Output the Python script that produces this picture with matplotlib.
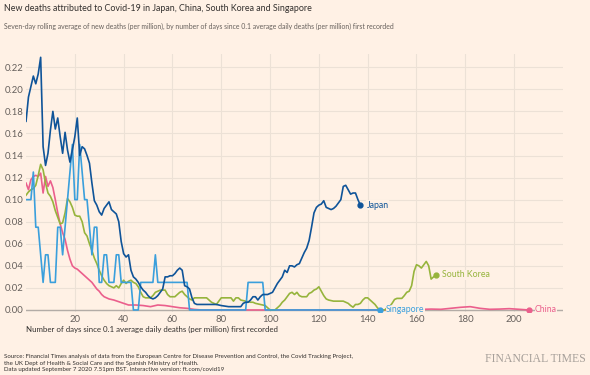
import matplotlib
matplotlib.use("Agg")
import matplotlib.pyplot as plt

plt.rcParams['font.family'] = ['Lato', 'DejaVu Sans']

BG = '#fff1e5'

# days since 0.1 avg daily deaths (per million), 7-day rolling average of new deaths (per million)
japan_days = [0, 1, 3, 4, 5, 6, 7, 8, 9, 10, 11, 12, 13, 14, 15, 16, 17, 18, 19, 20, 21, 22, 23,
              24, 25, 26, 27, 28, 29, 30, 31, 32, 33, 34, 35, 36, 37, 38, 39, 40, 41, 42, 43, 44,
              45, 46, 47, 48, 49, 50, 51, 52, 53, 54, 55, 56, 57, 58, 59, 60, 61, 62, 63, 64, 65,
              66, 67, 68, 69, 70, 72, 75, 78, 80, 83, 86, 88, 89, 90, 91, 92, 93, 94, 95, 96, 97,
              98, 99, 100, 101, 102, 103, 104, 105, 106, 107, 108, 109, 110, 111, 112, 113, 114,
              115, 116, 117, 118, 119, 120, 121, 122, 123, 124, 125, 126, 127, 128, 129, 130, 131,
              132, 133, 134, 135, 136, 137]
japan_vals = [0.171, 0.193, 0.212, 0.205, 0.214, 0.229, 0.148, 0.131, 0.142, 0.163, 0.180, 0.164,
              0.174, 0.157, 0.142, 0.161, 0.145, 0.134, 0.145, 0.157, 0.174, 0.140, 0.148, 0.146,
              0.140, 0.133, 0.115, 0.099, 0.095, 0.089, 0.086, 0.092, 0.095, 0.098, 0.091, 0.089,
              0.087, 0.080, 0.062, 0.051, 0.048, 0.050, 0.036, 0.030, 0.028, 0.025, 0.021, 0.018,
              0.016, 0.013, 0.011, 0.010, 0.011, 0.013, 0.016, 0.019, 0.030, 0.030, 0.031, 0.031,
              0.033, 0.036, 0.038, 0.036, 0.022, 0.021, 0.019, 0.011, 0.006, 0.005, 0.005, 0.005,
              0.005, 0.004, 0.003, 0.003, 0.003, 0.006, 0.007, 0.007, 0.009, 0.012, 0.012, 0.009,
              0.012, 0.014, 0.014, 0.014, 0.015, 0.016, 0.020, 0.024, 0.027, 0.030, 0.036, 0.034,
              0.040, 0.040, 0.039, 0.041, 0.042, 0.047, 0.052, 0.056, 0.063, 0.075, 0.088, 0.093,
              0.095, 0.096, 0.099, 0.093, 0.092, 0.091, 0.092, 0.094, 0.097, 0.100, 0.112, 0.113,
              0.109, 0.105, 0.106, 0.106, 0.100, 0.095]

china_days = [0, 1, 2, 3, 4, 5, 6, 7, 8, 9, 10, 11, 12, 13, 14, 15, 16, 17, 18, 19, 20, 21, 22,
              23, 24, 25, 26, 27, 28, 29, 30, 31, 32, 33, 34, 36, 38, 40, 42, 45, 48, 51, 54, 57,
              60, 63, 66, 69, 72, 160, 163, 166, 170, 174, 178, 182, 186, 190, 194, 198, 202, 206]
china_vals = [0.115, 0.109, 0.118, 0.121, 0.122, 0.121, 0.124, 0.106, 0.121, 0.112, 0.117, 0.111,
              0.100, 0.088, 0.078, 0.070, 0.064, 0.054, 0.046, 0.040, 0.038, 0.037, 0.035, 0.033,
              0.031, 0.029, 0.027, 0.025, 0.022, 0.019, 0.017, 0.014, 0.012, 0.011, 0.010, 0.009,
              0.0075, 0.006, 0.0045, 0.0045, 0.004, 0.003, 0.0045, 0.004, 0.003, 0.002, 0.0015,
              0.0005, 0.0, 0.0, 0.0006, 0.0008, 0.0006, 0.0015, 0.0024, 0.003, 0.0015, 0.0006,
              0.0008, 0.0012, 0.0006, 0.0]

korea_days = [0, 1, 2, 3, 4, 5, 6, 7, 8, 9, 10, 11, 12, 13, 14, 15, 16, 17, 18, 19, 20, 21, 22,
              23, 24, 25, 26, 27, 28, 29, 30, 31, 32, 33, 34, 35, 36, 37, 38, 39, 40, 41, 42, 43,
              44, 45, 46, 47, 48, 49, 50, 51, 52, 53, 54, 55, 56, 57, 58, 59, 60, 61, 62, 63, 64,
              65, 66, 67, 68, 69, 70, 72, 74, 75, 76, 77, 78, 79, 80, 82, 84, 85, 86, 87, 88, 90,
              92, 93, 94, 96, 98, 99, 100, 102, 103, 104, 105, 106, 107, 108, 109, 110, 111, 112,
              113, 114, 115, 116, 117, 118, 119, 120, 121, 122, 123, 124, 126, 128, 130, 131, 132,
              133, 134, 135, 136, 137, 138, 139, 140, 141, 142, 143, 144, 145, 147, 148, 149, 150,
              151, 152, 154, 155, 156, 157, 158, 159, 160, 161, 162, 163, 164, 165, 166, 167, 168]
korea_vals = [0.104, 0.107, 0.109, 0.110, 0.113, 0.122, 0.132, 0.127, 0.115, 0.106, 0.103, 0.098,
              0.090, 0.084, 0.078, 0.079, 0.088, 0.101, 0.098, 0.093, 0.086, 0.085, 0.085, 0.080,
              0.070, 0.067, 0.060, 0.054, 0.047, 0.042, 0.036, 0.031, 0.027, 0.024, 0.022, 0.021,
              0.020, 0.022, 0.020, 0.024, 0.027, 0.024, 0.026, 0.027, 0.025, 0.024, 0.021, 0.016,
              0.012, 0.011, 0.011, 0.011, 0.013, 0.016, 0.017, 0.018, 0.018, 0.018, 0.014, 0.012,
              0.012, 0.012, 0.014, 0.016, 0.017, 0.014, 0.012, 0.010, 0.009, 0.011, 0.011, 0.011,
              0.011, 0.009, 0.007, 0.006, 0.005, 0.008, 0.011, 0.011, 0.011, 0.008, 0.011, 0.011,
              0.009, 0.008, 0.007, 0.007, 0.006, 0.005, 0.004, 0.002, 0.0, 0.0, 0.002, 0.004,
              0.007, 0.009, 0.012, 0.015, 0.016, 0.014, 0.016, 0.013, 0.012, 0.012, 0.012, 0.015,
              0.016, 0.018, 0.019, 0.021, 0.017, 0.013, 0.010, 0.009, 0.008, 0.008, 0.008, 0.007,
              0.006, 0.004, 0.0025, 0.005, 0.005, 0.006, 0.009, 0.011, 0.011, 0.009, 0.007, 0.005,
              0.002, 0.0, 0.0, 0.002, 0.003, 0.006, 0.0095, 0.0105, 0.0105, 0.013, 0.016, 0.017,
              0.022, 0.035, 0.041, 0.040, 0.038, 0.041, 0.044, 0.040, 0.028, 0.030, 0.032]

singapore_days = [0, 2, 3, 4, 5, 6, 7, 8, 9, 10, 12, 13, 14, 15, 16, 17, 18, 19, 20, 21, 22, 23,
                  24, 25, 26, 27, 28, 29, 30, 31, 32, 33, 34, 36, 37, 38, 39, 43, 44, 46, 47, 52,
                  53, 54, 66, 67, 90, 91, 97, 98, 145]
singapore_vals = [0.1, 0.1, 0.125, 0.075, 0.075, 0.05, 0.025, 0.05, 0.05, 0.025, 0.025, 0.075,
                  0.075, 0.05, 0.075, 0.1, 0.125, 0.15, 0.1, 0.1, 0.15, 0.125, 0.1, 0.1, 0.075,
                  0.05, 0.075, 0.075, 0.025, 0.025, 0.05, 0.05, 0.025, 0.025, 0.05, 0.05, 0.025,
                  0.025, 0.0, 0.0, 0.025, 0.025, 0.05, 0.025, 0.025, 0.0, 0.0, 0.025, 0.025, 0.0,
                  0.0]

series = [
    ('China', china_days, china_vals, '#eb5f8c'),
    ('South Korea', korea_days, korea_vals, '#96b43c'),
    ('Singapore', singapore_days, singapore_vals, '#3a9fdc'),
    ('Japan', japan_days, japan_vals, '#0f5499'),
]

yticks = [0.00, 0.02, 0.04, 0.06, 0.08, 0.10, 0.12, 0.14, 0.16, 0.18, 0.20, 0.22]
xticks = [20, 40, 60, 80, 100, 120, 140, 160, 180, 200]

fig = plt.figure(figsize=(5.9, 3.75), dpi=100, facecolor=BG)
ax = fig.add_axes([0.0441, 0.169, 0.91, 0.687], facecolor=BG)

ax.axhline(0, color='#b3aca6', lw=1, zorder=1)
for name, d, v, c in series:
    ax.plot(d, v, color=c, lw=1.2, zorder=3, solid_joinstyle='round')
    ax.plot(d[-1], v[-1], 'o', color=c, ms=3.5, zorder=4)
    ax.annotate(name, (d[-1], v[-1]), xytext=(4.5, 0), textcoords='offset points',
                va='center', ha='left', fontsize=6.3, color=c, zorder=5,
                bbox=dict(boxstyle='square,pad=0.05', fc=BG, ec='none'))

ax.set_xlim(0, 220)
ax.set_ylim(-0.0015, 0.232)
ax.set_xticks(xticks)
ax.set_yticks(yticks)
ax.set_yticklabels([f'{t:.2f}' for t in yticks])
ax.grid(True, color='#ece1d6', lw=0.8, zorder=0)
ax.set_axisbelow(True)
for s in ax.spines.values():
    s.set_visible(False)
ax.tick_params(length=0, labelsize=6.8, labelcolor='#66605c')
ax.tick_params(axis='y', pad=2)
ax.tick_params(axis='x', pad=2.5)

ax.set_xlabel('Number of days since 0.1 average daily deaths (per million) first recorded',
              fontsize=5.65, color='#33302e', loc='left', labelpad=1.5)

fig.text(0.006, 0.99, 'New deaths attributed to Covid-19 in Japan, China, South Korea and Singapore',
         fontsize=6.4, color='#33302e', va='top', ha='left')
fig.text(0.006, 0.938, 'Seven-day rolling average of new deaths (per million), by number of days since '
         '0.1 average daily deaths (per million) first recorded',
         fontsize=4.95, color='#66605c', va='top', ha='left')
fig.text(0.006, 0.008, 'Source: Financial Times analysis of data from the European Centre for Disease '
         'Prevention and Control, the Covid Tracking Project,\nthe UK Dept of Health & Social Care '
         'and the Spanish Ministry of Health.\nData updated September 7 2020 7.51pm BST. '
         'Interactive version: ft.com/covid19',
         fontsize=4.4, color='#33302e', va='bottom', ha='left', linespacing=1.35)
fig.text(0.993, 0.026, 'FINANCIAL TIMES', family='Liberation Serif', fontsize=8.5,
         color='#a7a09a', va='bottom', ha='right')

fig.savefig('out.png', dpi=100, facecolor=BG)
